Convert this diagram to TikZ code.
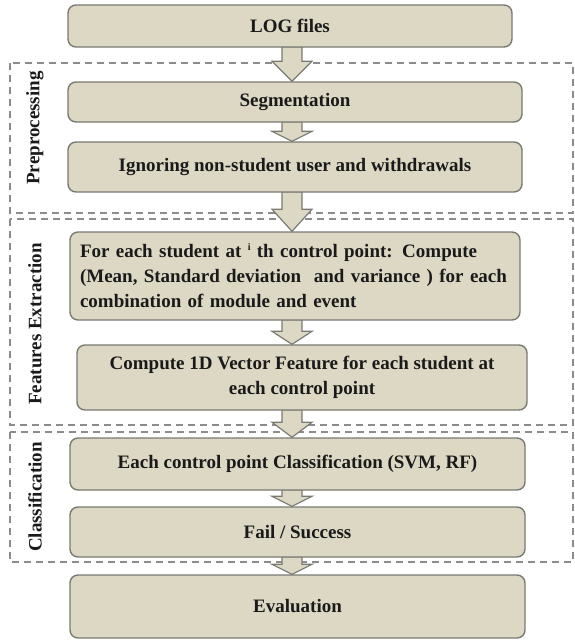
\documentclass[tikz,border=0pt]{standalone}
\usepackage{fontspec}
\setmainfont{Liberation Serif}
\usetikzlibrary{calc}
\definecolor{boxfill}{HTML}{DDD8C4}
\definecolor{boxline}{HTML}{7A7A74}
\definecolor{frameline}{HTML}{8C8C8C}
\definecolor{inktext}{HTML}{1A1A1A}
\pgfdeclarelayer{bg}
\pgfsetlayers{bg,main}

% block arrow between two steps: from, to, head length
\newcommand\flowarrow[3]{%
  \draw[blockarrow] let \p1=(#1.south), \p2=(#2.north), \p3=(axis) in
    (\x3-10pt,\y1+1pt) -- (\x3+10pt,\y1+1pt) -- (\x3+10pt,\y2+#3) -- (\x3+20pt,\y2+#3)
    -- (\x3,\y2) -- (\x3-20pt,\y2+#3) -- (\x3-10pt,\y2+#3) -- cycle;}

\begin{document}
\begin{tikzpicture}[x=1pt,y=-1pt,
  stepbox/.style={draw=boxline, fill=boxfill, line width=1.4pt, rounded corners=8pt,
    inner sep=0pt, align=center, text=inktext,
    font=\bfseries\fontsize{19}{25}\selectfont},
  blockarrow/.style={draw=boxline, fill=boxfill, line width=1.2pt, line join=miter},
  stageframe/.style={draw=frameline, line width=1.1pt, dash pattern=on 7pt off 5pt},
  stagelabel/.style={rotate=90, text=inktext, font=\bfseries\fontsize{19}{20}\selectfont}]

\useasboundingbox (0,0) rectangle (575,641);
\coordinate (axis) at (292,0);

% process steps
\node[stepbox, minimum width=444pt, minimum height=42pt] (log) at (290,26) {LOG files};
\node[stepbox, minimum width=454pt, minimum height=40pt] (seg) at (295,102) {Segmentation};
\node[stepbox, minimum width=454pt, minimum height=50pt] (ign) at (295,167)
  {Ignoring non-student user and withdrawals};
\node[stepbox, minimum width=450pt, minimum height=88pt, text width=430pt, align=left] (fe1) at (295,276)
  {\makebox[430pt][s]{For each student at {\fontsize{10}{10}\selectfont\raisebox{7pt}{i}} th control point: Compute}\\
   \makebox[430pt][s]{(Mean, Standard deviation\ \ and variance ) for each}\\
   combination of module and event};
\node[stepbox, minimum width=450pt, minimum height=65pt] (fe2) at (302,377.5)
  {Compute 1D Vector Feature for each student at\\ each control point};
\node[stepbox, minimum width=455pt, minimum height=52pt] (cls) at (297.5,464)
  {Each control point Classification (SVM, RF)};
\node[stepbox, minimum width=455pt, minimum height=50pt] (fail) at (297.5,532) {Fail / Success};
\node[stepbox, minimum width=455pt, minimum height=63pt] (eval) at (297.5,606.5) {Evaluation};

% stage labels
\node[stagelabel] (prelab) at (35,128) {Preprocessing};
\node[stagelabel] (felab) at (35,324) {Features Extraction};
\node[stagelabel] (clslab) at (35,497) {Classification};

\begin{pgfonlayer}{bg}
  % stage frames
  \draw[stageframe] (10,63) rectangle (573,213);
  \draw[stageframe] (10,219) rectangle (573,425);
  \draw[stageframe] (10,432) rectangle (573,562);
  % flow arrows
  \flowarrow{log}{seg}{20pt}
  \flowarrow{seg}{ign}{10pt}
  \flowarrow{ign}{fe1}{22pt}
  \flowarrow{fe1}{fe2}{13pt}
  \flowarrow{fe2}{cls}{15pt}
  \flowarrow{cls}{fail}{10pt}
  \flowarrow{fail}{eval}{10pt}
\end{pgfonlayer}
\end{tikzpicture}
\end{document}
